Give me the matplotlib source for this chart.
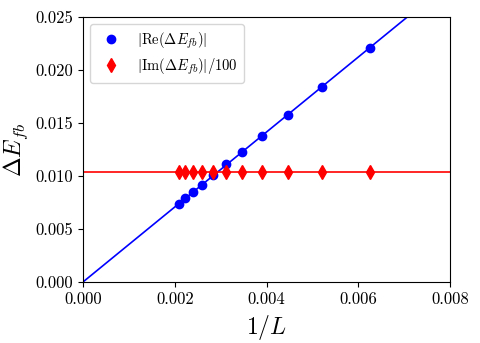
import numpy as np
import matplotlib
matplotlib.use('Agg')
import matplotlib.pyplot as plt

# fonts: computer modern look
plt.rcParams['font.family'] = 'serif'
plt.rcParams['font.serif'] = ['cmr10']
plt.rcParams['mathtext.fontset'] = 'cm'
plt.rcParams['axes.formatter.use_mathtext'] = True
plt.rcParams['axes.unicode_minus'] = False

# data
sizes_L = [160, 192, 224, 256, 288, 320, 352, 384, 416, 448, 480]
re_dE = [0.0221, 0.0184, 0.0158, 0.0138, 0.0123, 0.0111,
         0.0101, 0.0092, 0.0085, 0.0079, 0.0074]
im_dE = [0.01040, 0.01040, 0.01040, 0.01040, 0.01040, 0.01040,
         0.01040, 0.01040, 0.01040, 0.01040, 0.01040]

inv_L = 1.0 / np.array(sizes_L, dtype=float)
re_arr = np.array(re_dE)
im_arr = np.array(im_dE)

# fits: linear through origin for Re, constant for Im
slope = np.sum(inv_L * re_arr) / np.sum(inv_L ** 2)
im_mean = im_arr.mean()
x_fit = np.linspace(0, 0.008, 50)

fig, ax = plt.subplots(figsize=(4.8, 3.43), dpi=100)
fig.subplots_adjust(left=0.173, right=0.9375, top=0.95, bottom=0.178)

ax.plot(x_fit, slope * x_fit, color='blue', lw=1.2)
ax.axhline(im_mean, color='red', lw=1.2)
ax.plot(inv_L, re_arr, 'o', color='blue', ms=6,
        label=r'$|\mathrm{Re}(\Delta E_{fb})|$')
ax.plot(inv_L, im_arr, 'd', color='red', ms=7,
        label=r'$|\mathrm{Im}(\Delta E_{fb})|/100$')

ax.set_xlim(0, 0.008)
ax.set_ylim(0, 0.025)
ax.set_xticks([0, 0.002, 0.004, 0.006, 0.008])
ax.set_xticklabels(['0.000', '0.002', '0.004', '0.006', '0.008'])
ax.set_yticks([0, 0.005, 0.010, 0.015, 0.020, 0.025])
ax.set_yticklabels(['0.000', '0.005', '0.010', '0.015', '0.020', '0.025'])
ax.tick_params(labelsize=12)

ax.set_xlabel(r'$1/L$', fontsize=17)
ax.set_ylabel(r'$\Delta E_{fb}$', fontsize=17)

ax.legend(loc='upper left', fontsize=10.5, borderaxespad=0.5,
          labelspacing=0.4)

plt.savefig('out.png', dpi=100)
